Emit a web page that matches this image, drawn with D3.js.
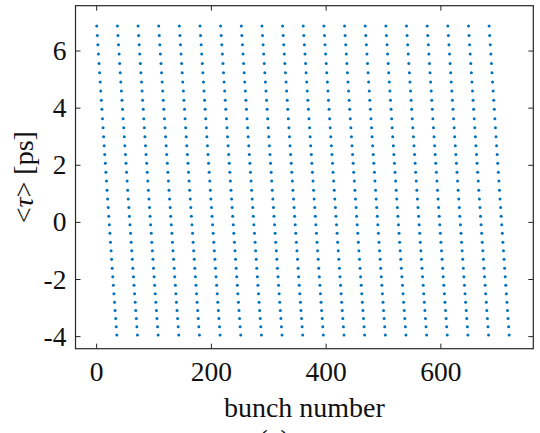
<!DOCTYPE html>
<html>
<head>
<meta charset="utf-8">
<script src="https://cdn.jsdelivr.net/npm/d3@7"></script>
<style>
  html, body { margin: 0; padding: 0; background: #fff; }
  svg { display: block; }
  text { font-family: "Liberation Serif", "Times New Roman", serif; fill: #111; }
</style>
</head>
<body>
<svg id="chart" width="540" height="433"></svg>
<script>
// Mean bunch arrival time <tau> [ps] along one bunch train (36 bunches);
// every train in the fill shows the same slope.
const tauAlongTrain = [
  6.86, 6.53, 6.20, 5.88, 5.55, 5.22, 4.90, 4.58, 4.26, 3.94, 3.61, 3.30,
  2.98, 2.67, 2.36, 2.05, 1.74, 1.43, 1.11, 0.80, 0.50, 0.20, -0.10, -0.40,
  -0.71, -1.01, -1.31, -1.62, -1.92, -2.22, -2.52, -2.81, -3.10, -3.38, -3.67, -3.96
];
const trainCount = 20;
const bunchesPerTrain = tauAlongTrain.length;

const xTicks = [0, 200, 400, 600];
const yTicks = [-4, -2, 0, 2, 4, 6];
const xDomain = [-36, 762];
const yDomain = [-4.44, 7.57];

// bunch number / tau pairs for the whole fill
const points = [];
for (let t = 0; t < trainCount; t++) {
  tauAlongTrain.forEach((tau, i) => {
    points.push({ bunch: t * bunchesPerTrain + i + 1, tau: tau });
  });
}

const box = { left: 75.5, right: 533.3, top: 5.7, bottom: 348.7 };
const svg = d3.select("#chart");

const x = d3.scaleLinear().domain(xDomain).range([box.left, box.right]);
const y = d3.scaleLinear().domain(yDomain).range([box.bottom, box.top]);

const axisColor = "#262626";
const tickFont = 27.5;
const fmt = d => String(d);

// data points
svg.append("g")
  .selectAll("circle")
  .data(points)
  .join("circle")
  .attr("cx", d => x(d.bunch))
  .attr("cy", d => y(d.tau))
  .attr("r", 1.5)
  .attr("fill", "#0072BD");

function styleAxis(g) {
  g.selectAll(".domain").remove();
  g.selectAll(".tick line").attr("stroke", axisColor).attr("stroke-width", 1);
  g.selectAll("text").attr("font-size", tickFont).attr("fill", "#111")
    .attr("font-family", "Liberation Serif, Times New Roman, serif");
}

// bottom axis with labels
svg.append("g")
  .attr("transform", `translate(0,${box.bottom})`)
  .call(d3.axisBottom(x).tickValues(xTicks).tickFormat(fmt).tickSizeInner(-5).tickSizeOuter(0))
  .call(styleAxis)
  .call(g => g.selectAll("text").attr("y", 32.3).attr("dy", 0));

// top axis, ticks only
svg.append("g")
  .attr("transform", `translate(0,${box.top})`)
  .call(d3.axisTop(x).tickValues(xTicks).tickFormat("").tickSizeInner(-5).tickSizeOuter(0))
  .call(styleAxis);

// left axis with labels
svg.append("g")
  .attr("transform", `translate(${box.left},0)`)
  .call(d3.axisLeft(y).tickValues(yTicks).tickFormat(fmt).tickSizeInner(-5).tickSizeOuter(0).tickPadding(9))
  .call(styleAxis)
  .call(g => g.selectAll("text").attr("dy", "0.33em"));

// right axis, ticks only
svg.append("g")
  .attr("transform", `translate(${box.right},0)`)
  .call(d3.axisRight(y).tickValues(yTicks).tickFormat("").tickSizeInner(-5).tickSizeOuter(0))
  .call(styleAxis);

// plot frame
svg.append("rect")
  .attr("x", box.left).attr("y", box.top)
  .attr("width", box.right - box.left).attr("height", box.bottom - box.top)
  .attr("fill", "none").attr("stroke", axisColor).attr("stroke-width", 1.2);

// axis titles
svg.append("text")
  .attr("x", (box.left + box.right) / 2)
  .attr("y", 416.7)
  .attr("text-anchor", "middle")
  .attr("font-size", 28)
  .text("bunch number");

const yTitle = svg.append("text")
  .attr("transform", `translate(33,${(box.top + box.bottom) / 2}) rotate(-90)`)
  .attr("text-anchor", "middle")
  .attr("font-size", 28);
yTitle.append("tspan").text("<");
yTitle.append("tspan").attr("font-style", "italic").text("τ");
yTitle.append("tspan").text("> [ps]");

// panel tag below the axis title, running off the lower edge
svg.append("text")
  .attr("x", 274)
  .attr("y", 449)
  .attr("text-anchor", "middle")
  .attr("font-size", 28)
  .text("(a)");
</script>
</body>
</html>
